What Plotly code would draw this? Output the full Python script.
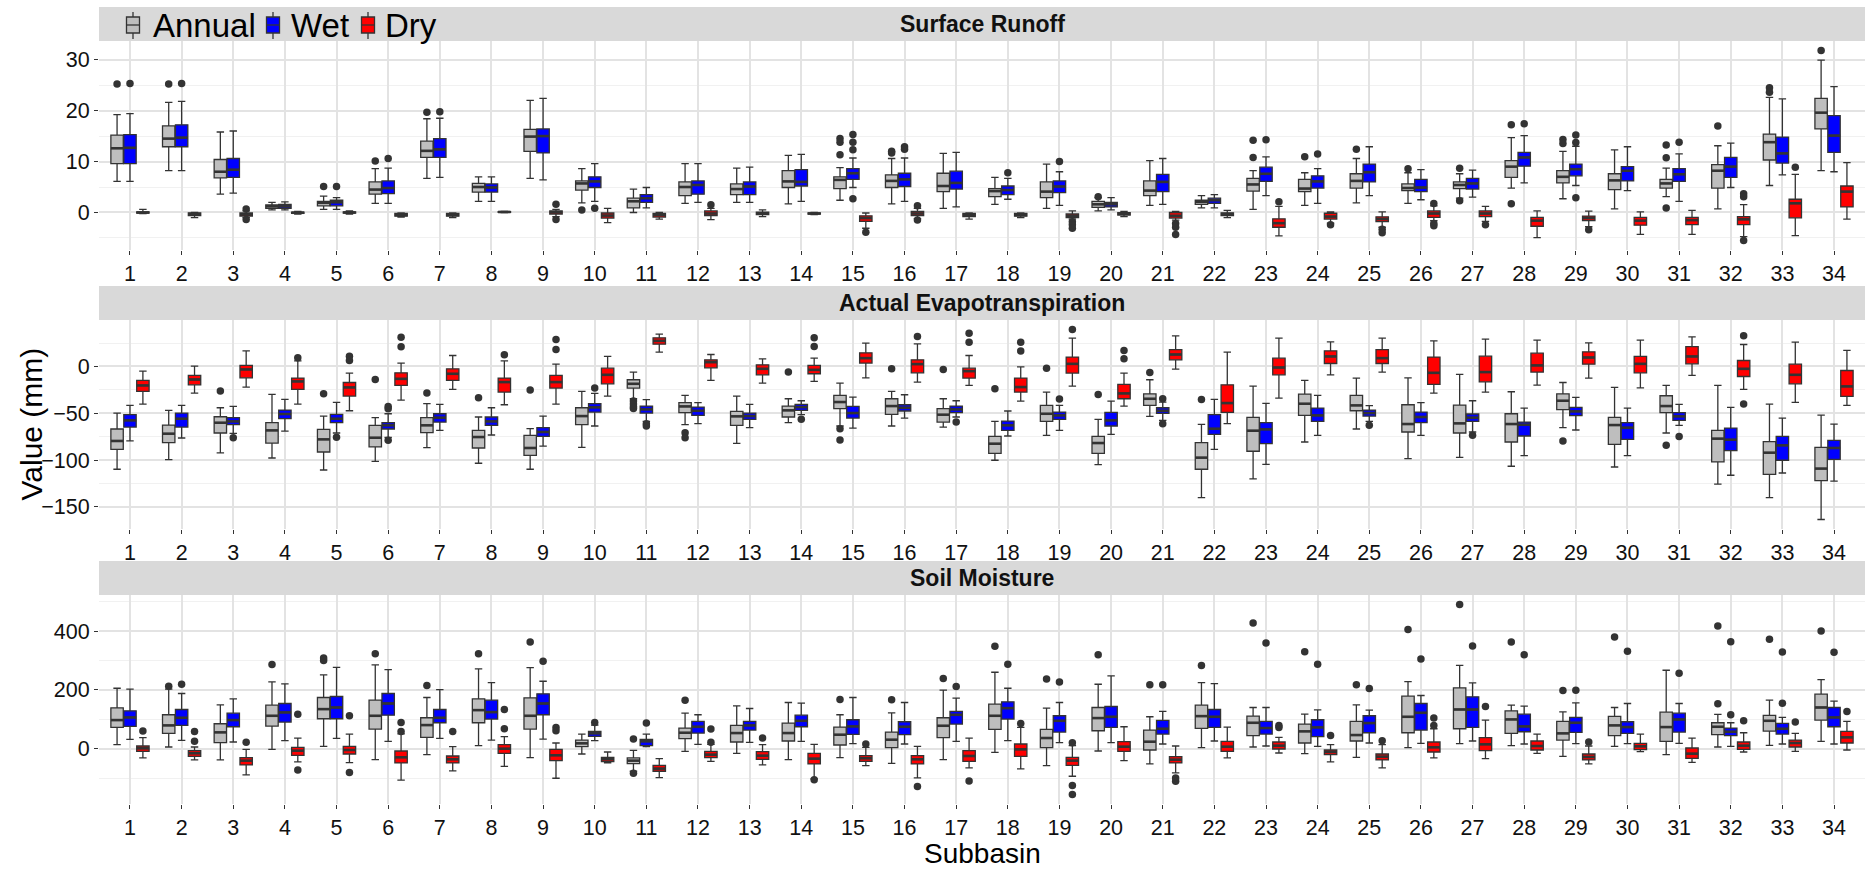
import plotly.graph_objects as go

# ---------------------------------------------------------------------------
# Data: box statistics per subbasin (1..34) as
# (lower whisker, Q1, median, Q3, upper whisker)
# ---------------------------------------------------------------------------
subbasins = list(range(1, 35))
seasons = ["Annual", "Wet", "Dry"]
panel_titles = ["Surface Runoff", "Actual Evapotranspiration", "Soil Moisture"]

runoff_annual = [
    (6.1, 9.6, 12.6, 15.2, 19.2), (8.2, 12.9, 14.5, 17.0, 21.6), (3.6, 6.8, 8.0, 10.4, 15.8),
    (0.5, 0.8, 1.2, 1.5, 2.0), (0.6, 1.3, 1.9, 2.2, 3.2), (1.8, 3.6, 4.5, 6.0, 8.6),
    (6.7, 10.8, 12.1, 14.0, 18.4), (2.2, 4.0, 5.0, 5.7, 7.0), (6.7, 12.0, 14.9, 16.3, 22.0),
    (1.9, 4.4, 5.7, 6.2, 8.6), (0.0, 0.9, 2.2, 2.8, 4.6), (1.8, 3.3, 5.0, 6.0, 9.6),
    (2.0, 3.5, 4.6, 5.6, 8.7), (1.7, 4.9, 6.1, 8.2, 11.2), (2.4, 4.7, 6.4, 7.0, 8.8),
    (1.7, 4.9, 6.2, 7.4, 10.6), (0.8, 4.1, 5.2, 7.7, 11.6), (1.6, 3.1, 4.2, 4.7, 6.9),
    (0.8, 2.9, 4.1, 6.0, 9.5), (0.3, 1.0, 1.6, 2.2, 2.9), (1.4, 3.3, 4.3, 6.2, 10.2),
    (0.9, 1.6, 2.1, 2.4, 3.3), (0.6, 4.2, 5.5, 6.7, 8.2), (1.4, 4.1, 4.7, 6.5, 7.8),
    (1.9, 4.8, 6.2, 7.6, 10.6), (1.8, 4.3, 4.8, 5.6, 7.8), (2.8, 4.7, 5.4, 6.0, 7.6),
    (4.8, 6.9, 9.0, 10.2, 14.7), (2.7, 5.8, 7.0, 8.2, 12.0), (0.7, 4.5, 6.3, 7.6, 12.3),
    (3.1, 4.8, 5.7, 6.5, 8.7), (0.7, 4.8, 8.2, 9.4, 13.1), (5.3, 10.3, 13.8, 15.4, 22.6),
    (8.2, 16.4, 19.6, 22.4, 29.9),
]
runoff_wet = [
    (6.1, 9.6, 12.7, 15.3, 19.4), (8.2, 12.9, 14.7, 17.2, 21.8), (3.8, 6.9, 8.4, 10.6, 16.0),
    (0.5, 0.8, 1.2, 1.6, 2.1), (0.6, 1.3, 2.0, 2.4, 2.9), (1.8, 3.7, 4.8, 6.2, 8.7),
    (6.9, 10.8, 12.4, 14.5, 18.5), (2.2, 4.0, 4.9, 5.6, 7.0), (6.4, 11.7, 15.0, 16.4, 22.4),
    (2.2, 4.9, 6.1, 7.0, 9.6), (0.9, 2.0, 2.8, 3.5, 4.9), (2.0, 3.6, 5.4, 6.2, 9.6),
    (2.0, 3.5, 5.1, 6.0, 8.9), (2.2, 5.2, 6.0, 8.4, 11.4), (4.9, 6.5, 7.7, 8.6, 10.7),
    (2.2, 5.1, 6.5, 7.7, 10.7), (1.1, 4.6, 5.8, 8.1, 11.8), (2.6, 3.5, 4.4, 5.2, 6.7),
    (1.4, 3.9, 5.1, 6.2, 8.0), (0.5, 1.1, 1.6, 2.0, 2.9), (1.6, 4.1, 6.0, 7.5, 10.6),
    (0.9, 1.8, 2.4, 2.8, 3.5), (3.3, 6.1, 7.6, 8.9, 10.9), (1.8, 4.8, 6.1, 7.2, 8.6),
    (3.3, 6.0, 7.9, 9.5, 12.9), (2.5, 4.1, 4.9, 6.5, 8.4), (3.0, 4.6, 5.7, 6.7, 8.3),
    (5.8, 9.1, 10.8, 11.8, 15.1), (5.3, 7.2, 8.5, 9.5, 13.0), (4.3, 6.2, 8.2, 9.0, 12.9),
    (2.2, 6.1, 7.5, 8.6, 11.5), (4.9, 6.9, 9.0, 10.8, 13.6), (7.4, 9.7, 11.6, 14.8, 22.3),
    (8.0, 11.8, 15.1, 19.0, 24.7),
]
runoff_dry = [
    (-0.2, -0.1, 0.0, 0.1, 0.6), (-1.0, -0.6, -0.3, -0.1, 0.0), (-1.0, -0.7, -0.4, -0.1, 0.3),
    (-0.3, -0.15, -0.05, 0.05, 0.2), (-0.3, -0.1, 0.0, 0.1, 0.3), (-0.9, -0.7, -0.5, -0.2, -0.1),
    (-1.0, -0.7, -0.5, -0.2, -0.1), (0.0, 0.05, 0.1, 0.15, 0.2), (-0.8, -0.3, 0.05, 0.3, 0.6),
    (-2.0, -1.1, -0.6, -0.1, 0.8), (-1.3, -0.9, -0.5, -0.2, 0.0), (-1.4, -0.6, -0.2, 0.3, 0.8),
    (-0.8, -0.4, -0.2, 0.05, 0.5), (-0.4, -0.3, -0.2, -0.1, 0.0), (-3.1, -1.75, -1.1, -0.65, -0.1),
    (-1.2, -0.6, -0.2, 0.2, 0.8), (-1.3, -0.8, -0.5, -0.2, -0.1), (-1.0, -0.7, -0.5, -0.2, -0.1),
    (-1.3, -1.0, -0.65, -0.3, 0.3), (-0.8, -0.5, -0.25, -0.05, 0.2), (-1.5, -1.1, -0.65, 0.0, 0.2),
    (-1.0, -0.6, -0.3, -0.1, 0.4), (-4.6, -2.9, -2.1, -1.25, 1.2), (-2.1, -1.3, -0.8, -0.15, 0.1),
    (-2.9, -1.8, -1.3, -0.85, 0.1), (-1.6, -0.95, -0.2, 0.3, 1.3), (-1.75, -0.8, -0.2, 0.3, 1.2),
    (-4.95, -2.7, -1.6, -0.95, 0.3), (-2.8, -1.6, -1.1, -0.7, 0.25), (-4.3, -2.5, -1.6, -0.95, 0.1),
    (-4.3, -2.4, -1.5, -0.95, 0.4), (-4.75, -2.4, -1.35, -0.8, 1.55), (-4.55, -1.05, 1.8, 2.6, 7.5),
    (-1.3, 1.1, 4.1, 5.2, 9.8),
]
runoff_outliers = [
    (1, "Annual", 25.2), (1, "Wet", 25.3), (2, "Annual", 25.2), (2, "Wet", 25.3),
    (3, "Dry", 0.7), (3, "Dry", -1.4), (5, "Annual", 5.1), (5, "Wet", 5.1),
    (6, "Annual", 10.1), (6, "Wet", 10.6), (7, "Annual", 19.7), (7, "Wet", 19.8),
    (9, "Dry", 1.6), (9, "Dry", -1.4), (10, "Annual", 0.5), (10, "Wet", 0.85),
    (12, "Dry", 1.5),
    (15, "Annual", 14.5), (15, "Annual", 13.8), (15, "Annual", 11.35),
    (15, "Wet", 15.3), (15, "Wet", 13.8), (15, "Wet", 12.3), (15, "Wet", 2.7), (15, "Dry", -3.9),
    (16, "Annual", 12.0), (16, "Annual", 11.7), (16, "Wet", 12.9), (16, "Wet", 12.4),
    (16, "Dry", 1.3), (16, "Dry", -1.5), (18, "Wet", 7.8),
    (19, "Wet", 10.0), (19, "Dry", -1.8), (19, "Dry", -2.4), (19, "Dry", -3.1),
    (20, "Annual", 3.1), (21, "Dry", -2.15), (21, "Dry", -2.9), (21, "Dry", -4.3),
    (23, "Annual", 14.2), (23, "Annual", 10.8), (23, "Wet", 14.3), (23, "Dry", 2.1),
    (24, "Annual", 10.95), (24, "Wet", 11.5), (24, "Dry", -2.4),
    (25, "Annual", 12.4), (25, "Dry", -3.3), (25, "Dry", -4.0),
    (26, "Annual", 8.6), (26, "Dry", 1.75), (26, "Dry", -2.15), (26, "Dry", -2.6),
    (27, "Annual", 8.7), (27, "Annual", 2.3), (27, "Dry", -2.4),
    (28, "Annual", 17.2), (28, "Annual", 1.7), (28, "Wet", 17.4),
    (29, "Annual", 14.35), (29, "Annual", 13.55), (29, "Wet", 15.2), (29, "Wet", 13.75),
    (29, "Wet", 2.9), (29, "Dry", -3.4),
    (31, "Annual", 13.25), (31, "Annual", 10.75), (31, "Annual", 0.9), (31, "Wet", 13.8),
    (32, "Annual", 17.0), (32, "Dry", 3.7), (32, "Dry", 3.1), (32, "Dry", -5.5),
    (33, "Annual", 24.5), (33, "Annual", 23.6), (33, "Dry", 8.9), (34, "Annual", 31.8),
]

aet_annual = [
    (-109.8, -88.5, -79.6, -66.8, -49.8), (-99.5, -81.4, -71.8, -62.6, -46.9),
    (-92.4, -71.1, -60.1, -53.7, -44.1), (-97.8, -81.8, -68.3, -60.1, -29.9),
    (-110.6, -91.4, -77.9, -67.2, -53.0), (-101.3, -86.0, -76.1, -62.9, -54.7),
    (-86.7, -70.7, -62.9, -54.7, -39.8), (-103.4, -87.1, -75.4, -68.3, -54.0),
    (-109.8, -94.9, -87.1, -73.6, -66.5), (-86.4, -62.2, -53.0, -44.1, -26.7),
    (-34.5, -23.1, -18.5, -14.2, -6.0), (-62.2, -49.4, -42.7, -38.7, -30.9),
    (-82.1, -62.9, -53.3, -48.0, -31.6), (-60.1, -54.0, -46.9, -42.3, -34.5),
    (-63.6, -45.1, -38.0, -30.9, -17.8), (-63.6, -51.2, -42.3, -34.5, -26.7),
    (-64.7, -59.4, -51.5, -45.1, -34.5), (-100.2, -92.8, -82.5, -74.7, -58.7),
    (-73.6, -58.7, -50.5, -41.6, -27.4), (-104.9, -92.8, -81.8, -74.7, -56.5),
    (-53.3, -41.6, -34.5, -29.2, -14.2), (-140.1, -109.8, -97.4, -81.4, -61.9),
    (-120.2, -90.6, -68.6, -54.4, -21.0), (-80.7, -52.3, -39.8, -29.5, -14.9),
    (-66.8, -47.3, -41.6, -30.9, -12.4), (-98.5, -70.0, -61.5, -40.9, -12.1),
    (-97.1, -71.1, -60.8, -41.2, -8.5), (-106.6, -80.7, -61.5, -50.5, -27.0),
    (-65.4, -46.2, -36.6, -29.2, -17.1), (-107.4, -83.2, -62.6, -54.4, -22.4),
    (-71.1, -49.4, -42.3, -31.3, -20.3), (-125.8, -102.0, -77.1, -68.3, -20.3),
    (-140.1, -115.2, -92.1, -80.3, -40.2), (-163.5, -121.9, -109.1, -86.4, -51.9),
]
aet_wet = [
    (-79.6, -64.7, -57.6, -51.5, -41.6), (-76.4, -64.7, -55.8, -49.8, -41.6),
    (-71.5, -62.2, -58.7, -54.7, -42.7), (-69.0, -55.8, -50.8, -46.6, -35.2),
    (-71.1, -60.1, -55.8, -51.2, -38.4), (-75.7, -66.8, -62.9, -60.1, -50.5),
    (-68.3, -59.4, -54.7, -50.5, -40.5), (-73.2, -62.9, -58.7, -54.0, -44.1),
    (-85.0, -74.7, -70.0, -65.4, -53.0), (-63.6, -48.7, -43.7, -39.8, -28.8),
    (-58.7, -49.8, -45.9, -42.3, -35.5), (-61.1, -52.3, -47.3, -43.4, -38.7),
    (-65.4, -56.5, -53.0, -49.8, -40.5), (-51.5, -46.9, -43.4, -40.5, -36.6),
    (-65.8, -55.1, -49.8, -42.7, -32.7), (-55.1, -47.6, -44.1, -40.9, -30.2),
    (-54.0, -49.4, -45.9, -42.3, -36.6), (-74.3, -68.3, -62.9, -58.3, -47.6),
    (-68.3, -56.5, -52.3, -48.7, -41.6), (-72.5, -63.6, -57.6, -49.1, -37.0),
    (-57.6, -50.1, -47.3, -44.1, -38.0), (-88.5, -72.5, -66.5, -51.5, -35.2),
    (-104.5, -82.5, -67.2, -60.1, -39.5), (-73.6, -58.7, -52.3, -44.4, -30.9),
    (-58.7, -53.0, -49.8, -46.6, -41.9), (-73.6, -60.1, -54.0, -48.7, -38.7),
    (-70.0, -58.7, -54.7, -50.8, -36.6), (-95.3, -74.3, -62.2, -59.4, -44.4),
    (-67.9, -52.6, -48.0, -43.7, -33.1), (-95.3, -77.9, -65.4, -60.1, -44.4),
    (-62.9, -57.6, -53.3, -49.4, -40.5), (-116.2, -89.9, -78.2, -65.8, -43.7),
    (-113.8, -100.2, -84.3, -74.7, -55.1), (-122.6, -99.2, -87.1, -78.9, -61.5),
]
aet_dry = [
    (-40.2, -26.7, -20.3, -14.9, -5.0), (-28.4, -19.6, -13.9, -9.6, 0.4),
    (-22.0, -12.1, -3.2, 1.1, 16.7), (-40.2, -24.5, -16.0, -12.4, 6.0),
    (-47.3, -31.6, -22.4, -17.1, -7.1), (-36.0, -20.3, -13.2, -6.8, 3.6),
    (-24.5, -14.9, -7.8, -2.5, 11.7), (-40.9, -27.4, -16.7, -12.4, 6.0),
    (-40.2, -23.1, -16.7, -9.6, 2.5), (-31.6, -18.5, -8.9, -1.8, 10.7),
    (15.3, 23.8, 27.4, 30.6, 34.5), (-14.9, -1.4, 4.6, 7.1, 12.8),
    (-17.8, -8.9, -2.5, 1.8, 8.2), (-16.0, -7.8, -3.6, 1.1, 8.9),
    (-12.1, 3.6, 8.9, 14.6, 24.9), (-16.7, -6.8, 2.5, 7.1, 24.2),
    (-20.3, -12.4, -5.0, -1.8, 11.7), (-37.0, -27.4, -22.0, -12.4, -0.4),
    (-21.0, -7.1, 2.8, 10.0, 30.2), (-42.3, -34.5, -28.8, -19.2, -7.1),
    (-2.8, 7.1, 12.8, 18.1, 32.7), (-61.1, -49.1, -39.1, -19.6, 15.3),
    (-33.8, -8.9, -1.1, 8.9, 30.2), (-8.9, 3.2, 10.7, 16.7, 26.3),
    (-6.0, 3.2, 8.9, 18.1, 30.2), (-28.4, -19.2, -6.8, 10.0, 27.4),
    (-27.4, -16.4, -6.0, 11.0, 29.2), (-19.9, -6.0, 1.1, 14.2, 28.1),
    (-12.4, 2.5, 9.6, 15.6, 25.2), (-22.8, -6.8, 2.8, 10.7, 28.1),
    (-9.6, 2.8, 10.7, 21.3, 31.6), (-24.5, -10.7, -2.5, 6.4, 23.5),
    (-38.4, -18.5, -8.9, 2.5, 26.0), (-41.6, -32.0, -21.3, -4.3, 17.1),
]
aet_outliers = [
    (3, "Annual", -26.3), (3, "Wet", -76.1), (4, "Dry", 9.2),
    (5, "Annual", -29.2), (5, "Wet", -75.7), (5, "Dry", 11.0), (5, "Dry", 6.4),
    (6, "Annual", -13.9), (6, "Wet", -42.7), (6, "Wet", -45.2), (6, "Wet", -78.9),
    (6, "Dry", 31.3), (6, "Dry", 21.0), (7, "Annual", -28.4),
    (8, "Annual", -33.4), (8, "Dry", 12.4), (9, "Annual", -25.2), (9, "Dry", 28.8), (9, "Dry", 18.1),
    (10, "Wet", -23.1),
    (11, "Annual", -37.0), (11, "Annual", -40.0), (11, "Annual", -43.0), (11, "Annual", -45.0),
    (11, "Wet", -61.1), (11, "Wet", -63.6), (12, "Annual", -70.7), (12, "Annual", -76.1),
    (14, "Annual", -6.0), (14, "Wet", -56.5), (14, "Dry", 30.6), (14, "Dry", 21.3),
    (15, "Annual", -66.5), (15, "Annual", -78.6), (16, "Annual", -2.5), (16, "Dry", 32.0),
    (17, "Annual", -3.2), (17, "Wet", -59.4), (17, "Dry", 35.5), (17, "Dry", 26.0),
    (18, "Annual", -23.8), (18, "Dry", 26.0), (18, "Dry", 16.4),
    (19, "Annual", -1.8), (19, "Wet", -34.8), (19, "Dry", 39.5),
    (20, "Annual", -29.9), (20, "Dry", 17.1), (20, "Dry", 8.2),
    (21, "Annual", -6.4), (21, "Wet", -34.5), (21, "Wet", -61.1), (22, "Annual", -35.2),
    (25, "Wet", -62.9), (27, "Wet", -73.6), (29, "Annual", -79.6),
    (31, "Annual", -84.3), (31, "Wet", -74.7), (32, "Dry", 32.7), (32, "Dry", -40.2),
]

sm_annual = [
    (13.6, 72.3, 97.2, 139.0, 205.6), (5.6, 52.0, 79.1, 115.3, 202.3), (-38.4, 20.3, 55.4, 84.7, 149.2),
    (-2.3, 76.8, 111.9, 148.0, 227.1), (7.9, 101.7, 134.5, 174.0, 250.8), (-37.3, 66.7, 111.9, 165.0, 284.7),
    (-20.3, 38.4, 80.2, 105.1, 174.0), (10.2, 88.1, 131.1, 169.5, 271.2), (-30.5, 66.7, 111.9, 172.9, 275.7),
    (-18.1, 6.8, 18.1, 29.4, 49.7), (-76.8, -50.8, -40.7, -31.6, -5.6), (-9.0, 33.9, 54.2, 70.1, 120.9),
    (-15.8, 22.6, 53.1, 79.1, 145.8), (-37.3, 26.0, 53.1, 87.0, 157.1), (-30.5, 12.4, 47.5, 73.4, 115.3),
    (-49.7, 3.4, 30.5, 56.5, 122.0), (-37.3, 37.3, 78.0, 105.1, 198.9), (-12.4, 65.5, 111.9, 151.4, 259.9),
    (-57.6, 3.4, 36.2, 65.5, 137.9), (-7.9, 61.0, 104.0, 140.1, 219.2), (-52.0, -4.5, 23.7, 63.3, 108.5),
    (3.4, 68.9, 110.7, 148.0, 224.9), (5.6, 44.1, 88.1, 110.7, 140.1), (-16.9, 19.2, 58.8, 83.6, 117.5),
    (-29.4, 26.0, 46.3, 92.7, 149.2), (3.4, 54.2, 108.5, 178.5, 228.2), (16.9, 67.8, 133.3, 206.8, 283.6),
    (10.2, 52.0, 99.4, 128.8, 148.0), (-26.0, 29.4, 52.0, 92.7, 125.4), (7.9, 44.1, 79.1, 109.6, 140.1),
    (-20.3, 24.9, 73.4, 124.3, 266.7), (5.6, 47.5, 74.6, 88.1, 116.4), (11.3, 59.9, 94.9, 113.0, 165.0),
    (24.9, 97.2, 140.1, 185.3, 235.0),
]
sm_wet = [
    (31.6, 75.7, 106.2, 128.8, 202.3), (28.2, 79.1, 105.1, 133.3, 187.6), (22.6, 74.6, 97.2, 120.9, 169.5),
    (27.1, 90.4, 123.2, 153.7, 220.3), (35.0, 101.7, 140.1, 177.4, 276.8), (24.9, 114.1, 153.7, 187.6, 268.9),
    (35.0, 88.1, 105.1, 133.3, 201.1), (29.4, 100.6, 124.3, 165.0, 224.9), (32.8, 115.3, 153.7, 186.4, 229.4),
    (27.1, 41.8, 52.0, 58.8, 80.0), (6.8, 10.2, 24.9, 31.6, 49.7), (14.7, 53.1, 74.6, 92.7, 115.3),
    (21.5, 63.3, 79.1, 92.7, 136.7), (24.9, 74.6, 94.9, 114.1, 154.8), (16.9, 48.6, 75.7, 98.3, 174.0),
    (15.8, 47.5, 74.6, 91.5, 157.1), (24.9, 83.6, 115.3, 126.6, 171.8), (27.1, 100.6, 137.9, 159.3, 205.6),
    (20.3, 56.5, 94.9, 111.9, 157.1), (20.3, 72.3, 108.5, 143.5, 247.5), (15.8, 49.7, 67.8, 96.0, 126.6),
    (26.0, 72.3, 108.5, 133.3, 221.5), (9.0, 49.7, 70.1, 92.7, 140.1), (7.9, 40.7, 72.3, 98.3, 132.2),
    (19.2, 54.2, 87.0, 111.9, 131.1), (18.1, 63.3, 122.0, 153.7, 180.8), (26.0, 72.3, 133.3, 176.3, 223.7),
    (15.8, 57.6, 75.7, 117.5, 144.6), (16.9, 55.4, 88.1, 106.2, 155.9), (16.9, 52.0, 73.4, 91.5, 153.7),
    (18.1, 56.5, 99.4, 120.9, 153.7), (7.9, 44.1, 57.6, 70.1, 88.1), (15.8, 49.7, 67.8, 85.9, 106.2),
    (15.8, 74.6, 106.2, 140.1, 161.6),
]
sm_dry = [
    (-31.6, -9.0, 1.1, 9.0, 37.3), (-38.4, -26.0, -15.8, -6.8, 5.6), (-89.3, -55.4, -40.7, -30.5, -2.3),
    (-45.2, -22.6, -6.8, 4.5, 36.2), (-47.5, -18.1, -4.5, 7.9, 49.7), (-107.3, -48.6, -29.4, -7.9, 50.0),
    (-75.7, -48.6, -36.2, -24.9, 6.8), (-59.9, -15.8, 0.0, 13.6, 40.7), (-100.6, -40.7, -22.6, -2.3, 19.2),
    (-48.6, -44.1, -36.2, -29.4, -11.3), (-98.3, -76.8, -67.8, -56.5, -33.9), (-42.9, -30.5, -20.3, -9.0, 14.7),
    (-55.4, -36.2, -23.7, -10.2, 13.6), (-102.8, -52.0, -33.9, -15.8, 14.7), (-57.6, -42.9, -32.8, -23.7, 4.5),
    (-99.4, -52.0, -36.2, -23.7, 7.9), (-65.5, -42.9, -24.9, -6.8, 36.2), (-68.9, -26.0, -2.3, 15.8, 72.3),
    (-93.8, -56.5, -40.7, -29.4, 10.2), (-40.7, -9.0, 6.8, 23.7, 74.6), (-82.5, -48.6, -37.3, -27.1, 9.0),
    (-31.6, -9.0, 6.8, 24.9, 73.4), (-14.7, -1.1, 10.2, 22.6, 38.4), (-45.2, -20.3, -11.3, -4.5, 13.6),
    (-65.5, -38.4, -27.1, -18.1, 13.6), (-31.6, -11.3, 4.5, 22.6, 67.8), (-33.9, -6.8, 14.7, 37.3, 97.2),
    (-15.8, -4.5, 9.0, 26.0, 49.7), (-52.0, -38.4, -28.2, -18.1, 9.0), (-10.2, -3.4, 7.9, 18.1, 49.7),
    (-46.3, -32.8, -16.9, 2.3, 36.2), (-11.3, -2.3, 10.2, 22.6, 54.2), (-9.0, 5.6, 19.2, 29.4, 52.0),
    (-4.5, 19.2, 38.4, 58.8, 92.7),
]
sm_outliers = [
    (1, "Dry", 59.9), (2, "Annual", 212.4), (2, "Wet", 219.2), (2, "Dry", 58.8), (2, "Dry", 24.9),
    (3, "Dry", 21.5), (4, "Annual", 285.9), (4, "Dry", 117.5), (4, "Dry", -72.3),
    (5, "Annual", 308.0), (5, "Annual", 300.0), (5, "Dry", 111.9), (5, "Dry", -81.4),
    (6, "Annual", 323.2), (6, "Dry", 89.3), (6, "Dry", 58.0), (7, "Annual", 214.7), (7, "Dry", 58.8),
    (8, "Annual", 323.2), (8, "Dry", 133.3), (8, "Dry", 67.8),
    (9, "Annual", 362.7), (9, "Wet", 297.2), (9, "Dry", 72.3), (9, "Dry", 61.0),
    (10, "Wet", 89.3), (11, "Annual", 32.8), (11, "Annual", -83.6), (11, "Wet", 87.0),
    (12, "Annual", 165.0), (12, "Dry", 66.7), (12, "Dry", 21.5), (13, "Dry", 36.2), (14, "Dry", -106.0),
    (15, "Annual", 167.2), (15, "Dry", 15.8), (16, "Annual", 166.1), (16, "Dry", -128.8),
    (17, "Annual", 238.4), (17, "Wet", 211.3), (17, "Dry", -109.6),
    (18, "Annual", 348.0), (18, "Wet", 287.0), (18, "Dry", 85.9),
    (19, "Annual", 237.3), (19, "Wet", 227.1), (19, "Dry", 20.3), (19, "Dry", -125.4), (19, "Dry", -155.9),
    (20, "Annual", 319.8), (21, "Annual", 217.0), (21, "Wet", 217.0), (21, "Dry", -99.4), (21, "Dry", -110.7),
    (22, "Annual", 282.5), (23, "Annual", 427.1), (23, "Wet", 359.3), (23, "Dry", 79.1), (23, "Dry", 72.3),
    (24, "Annual", 329.9), (24, "Wet", 287.0), (24, "Dry", 45.2),
    (25, "Annual", 217.0), (25, "Wet", 204.5), (25, "Dry", 27.1),
    (26, "Annual", 405.6), (26, "Wet", 305.1), (26, "Dry", 104.0), (26, "Dry", 79.1),
    (27, "Annual", 490.4), (27, "Wet", 349.2), (27, "Dry", 143.5),
    (28, "Annual", 362.7), (28, "Wet", 319.8), (29, "Annual", 197.7), (29, "Wet", 198.9), (29, "Dry", 22.6),
    (30, "Annual", 379.7), (30, "Wet", 331.1), (31, "Wet", 256.5),
    (32, "Annual", 416.9), (32, "Annual", 152.5), (32, "Wet", 363.8), (32, "Wet", 115.3), (32, "Dry", 94.9),
    (33, "Annual", 371.8), (33, "Wet", 328.8), (33, "Wet", 154.8), (33, "Dry", 90.4),
    (34, "Annual", 400.0), (34, "Wet", 327.7), (34, "Dry", 126.6),
]

# y tick spacing per panel: (major step, minor step)
panel_ticks = [(10, 5), (50, 25), (200, 100)]

# ---------------------------------------------------------------------------
# Styling
# ---------------------------------------------------------------------------
W, H = 1867, 870
FONT = "Liberation Sans, Arial, Helvetica, sans-serif"
season_fill = {"Annual": "#BEBEBE", "Wet": "#0000FF", "Dry": "#FF0000"}
season_offset = {"Annual": -0.25, "Wet": 0.0, "Dry": 0.25}
BOX_W = 0.24
EDGE = "#333333"
GRID = "#E3E3E3"
GRID_MINOR = "#F1F1F1"
STRIP = "#D9D9D9"
TICK_FONT = dict(family=FONT, size=21.5, color="#111111")

# panel plotting areas and strips, in pixels from the top of the page
panel_px = [(41, 250), (320, 529), (595, 804)]
strip_px = [(7, 41), (286, 320), (561, 595)]
x_left_px, x_right_px = 99, 1865

# legend key placement (pixels): key centre x, label left x
legend_keys = {"Annual": (133, 151), "Wet": (273, 289), "Dry": (368, 383)}
legend_mid_y = 25


def fy(px):
    return 1 - px / H


def fx(px):
    return px / W


panels = [
    ({"Annual": runoff_annual, "Wet": runoff_wet, "Dry": runoff_dry}, runoff_outliers),
    ({"Annual": aet_annual, "Wet": aet_wet, "Dry": aet_dry}, aet_outliers),
    ({"Annual": sm_annual, "Wet": sm_wet, "Dry": sm_dry}, sm_outliers),
]

fig = go.Figure()
layout_axes = {}
shapes = []
annotations = []

for i, (stats, outliers) in enumerate(panels):
    sfx = "" if i == 0 else str(i + 1)
    xref, yref = "x" + sfx, "y" + sfx

    # boxes
    for s in seasons:
        rows = stats[s]
        pos = [b + season_offset[s] for b in subbasins]
        fig.add_trace(go.Box(
            x=pos,
            lowerfence=[r[0] for r in rows],
            q1=[r[1] for r in rows],
            median=[r[2] for r in rows],
            q3=[r[3] for r in rows],
            upperfence=[r[4] for r in rows],
            orientation="v",
            width=BOX_W,
            whiskerwidth=0.6,
            fillcolor=season_fill[s],
            line=dict(color=EDGE, width=1.3),
            boxpoints=False,
            name=s,
            showlegend=False,
            hoverinfo="skip",
            xaxis=xref,
            yaxis=yref,
        ))

    # thicker median bars
    mx, my = [], []
    for s in seasons:
        for b, r in zip(subbasins, stats[s]):
            c = b + season_offset[s]
            mx += [c - BOX_W / 2, c + BOX_W / 2, None]
            my += [r[2], r[2], None]
    fig.add_trace(go.Scatter(
        x=mx, y=my, mode="lines", line=dict(color=EDGE, width=2.6),
        showlegend=False, hoverinfo="skip", xaxis=xref, yaxis=yref,
    ))

    # outlying points
    fig.add_trace(go.Scatter(
        x=[b + season_offset[s] for b, s, v in outliers],
        y=[v for b, s, v in outliers],
        mode="markers",
        marker=dict(color=EDGE, size=7.5, line=dict(width=0)),
        showlegend=False, hoverinfo="skip", xaxis=xref, yaxis=yref,
    ))

    # y range: data extent with 5% padding
    all_vals = [v for s in seasons for r in stats[s] for v in (r[0], r[4])]
    all_vals += [v for _, _, v in outliers]
    lo, hi = min(all_vals), max(all_vals)
    pad = 0.05 * (hi - lo)
    major, minor = panel_ticks[i]

    top_px, bot_px = panel_px[i]
    layout_axes["xaxis" + sfx] = dict(
        domain=[fx(x_left_px), fx(x_right_px)],
        range=[0.4, 34.6],
        anchor=yref,
        tickmode="array",
        tickvals=subbasins,
        ticktext=[str(b) for b in subbasins],
        ticks="outside", ticklen=4, tickwidth=1.2, tickcolor=EDGE,
        tickfont=TICK_FONT,
        showgrid=True, gridcolor=GRID, gridwidth=1.5,
        zeroline=False, showline=False, automargin=False,
    )
    layout_axes["yaxis" + sfx] = dict(
        domain=[fy(bot_px), fy(top_px)],
        range=[lo - pad, hi + pad],
        anchor=xref,
        tickmode="linear", tick0=0, dtick=major,
        ticks="outside", ticklen=4, tickwidth=1.2, tickcolor=EDGE,
        tickfont=TICK_FONT,
        showgrid=True, gridcolor=GRID, gridwidth=1.5,
        minor=dict(tick0=0, dtick=minor, showgrid=True, gridcolor=GRID_MINOR,
                   gridwidth=1, ticks=""),
        zeroline=False, showline=False, automargin=False,
    )

    # facet strip
    s_top, s_bot = strip_px[i]
    shapes.append(dict(
        type="rect", xref="paper", yref="paper",
        x0=fx(x_left_px), x1=fx(x_right_px), y0=fy(s_bot), y1=fy(s_top),
        fillcolor=STRIP, line=dict(width=0), layer="below",
    ))
    annotations.append(dict(
        text="<b>" + panel_titles[i] + "</b>", xref="paper", yref="paper",
        x=fx((x_left_px + x_right_px) / 2), y=fy((s_top + s_bot) / 2),
        xanchor="center", yanchor="middle", showarrow=False,
        font=dict(family=FONT, size=23, color="#111111"),
    ))

# legend keys drawn inside the first strip: box, whisker, median and label
for s in seasons:
    cx, tx = legend_keys[s]
    shapes.append(dict(
        type="line", xref="paper", yref="paper",
        x0=fx(cx), x1=fx(cx), y0=fy(legend_mid_y + 14), y1=fy(legend_mid_y - 13),
        line=dict(color=EDGE, width=1.3), layer="above",
    ))
    shapes.append(dict(
        type="rect", xref="paper", yref="paper",
        x0=fx(cx - 6.5), x1=fx(cx + 6.5), y0=fy(legend_mid_y + 8), y1=fy(legend_mid_y - 8),
        fillcolor=season_fill[s], line=dict(color=EDGE, width=1.3), layer="above",
    ))
    shapes.append(dict(
        type="line", xref="paper", yref="paper",
        x0=fx(cx - 6.5), x1=fx(cx + 6.5), y0=fy(legend_mid_y), y1=fy(legend_mid_y),
        line=dict(color=EDGE, width=1.3), layer="above",
    ))
    annotations.append(dict(
        text=s, xref="paper", yref="paper",
        x=fx(tx), y=fy(legend_mid_y), xanchor="left", yanchor="middle",
        showarrow=False, font=dict(family=FONT, size=33, color="#000000"),
    ))

annotations.append(dict(
    text="Value (mm)", xref="paper", yref="paper",
    x=fx(31), y=fy((panel_px[1][0] + panel_px[1][1]) / 2),
    xanchor="center", yanchor="middle", textangle=-90, showarrow=False,
    font=dict(family=FONT, size=30, color="#000000"),
))
annotations.append(dict(
    text="Subbasin", xref="paper", yref="paper",
    x=fx((x_left_px + x_right_px) / 2), y=0,
    xanchor="center", yanchor="bottom", showarrow=False, borderpad=0,
    font=dict(family=FONT, size=28, color="#000000"),
))

fig.update_layout(
    width=W, height=H,
    margin=dict(l=0, r=0, t=0, b=0),
    paper_bgcolor="white", plot_bgcolor="white",
    template="none",
    boxmode="overlay",
    font=dict(family=FONT),
    showlegend=False,
    shapes=shapes,
    annotations=annotations,
    **layout_axes,
)

fig.write_html("out.html")
